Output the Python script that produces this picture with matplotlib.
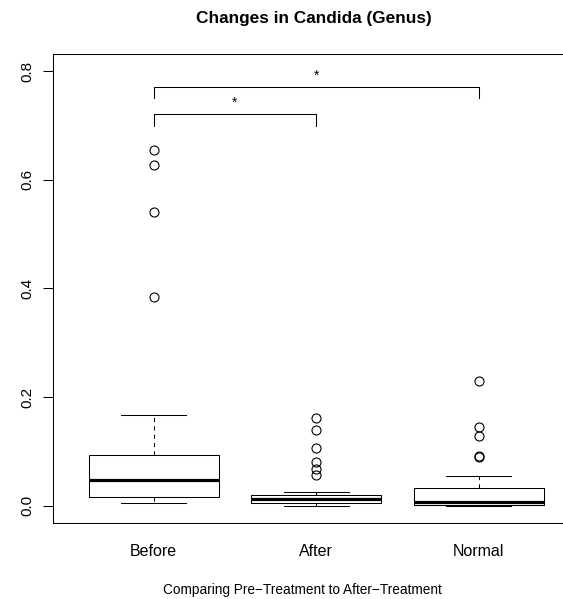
import matplotlib
matplotlib.use("Agg")
import matplotlib.pyplot as plt

plt.rcParams['font.family'] = ['Liberation Sans', 'DejaVu Sans']

groups = ["Before", "After", "Normal"]
whislo = [0.005, 0.000, 0.000]
q1 = [0.016, 0.005, 0.001]
med = [0.047, 0.012, 0.007]
q3 = [0.093, 0.0195, 0.032]
whishi = [0.167, 0.025, 0.0545]
outliers = [
    [0.656, 0.627, 0.541, 0.385],
    [0.162, 0.139, 0.106, 0.080, 0.068, 0.056],
    [0.2295, 0.145, 0.128, 0.091, 0.090],
]
yticks = [0.0, 0.2, 0.4, 0.6, 0.8]
comparisons = [(1, 2, 0.722, 0.700, "*"), (1, 3, 0.771, 0.751, "*")]

fig = plt.figure(figsize=(5.63, 5.99), dpi=100)
ax = fig.add_axes([53.3 / 563, 76 / 599, (578.8 - 53.3) / 563, 469 / 599])

stats = []
for i, g in enumerate(groups):
    stats.append(dict(label=g, whislo=whislo[i], q1=q1[i], med=med[i],
                      q3=q3[i], whishi=whishi[i], fliers=outliers[i]))

ax.bxp(stats, positions=[1, 2, 3], widths=0.8, showfliers=True,
       boxprops=dict(color='black', linewidth=0.75),
       medianprops=dict(color='black', linewidth=2.3, solid_capstyle='butt'),
       whiskerprops=dict(color='black', linewidth=0.75, linestyle=(0, (4, 4))),
       capprops=dict(color='black', linewidth=0.75),
       capwidths=0.4,
       flierprops=dict(marker='o', markerfacecolor='none', markeredgecolor='black',
                       markersize=6.5, markeredgewidth=0.8))

for (a, b, top, bot, s) in comparisons:
    ax.plot([a, a, b, b], [bot, top, top, bot], color='black', linewidth=0.75)
    ax.text((a + b) / 2, top + 0.008, s, ha='center', va='bottom', fontsize=10)

ax.set_xlim(0.383, 3.617)
ax.set_ylim(-0.032, 0.832)
ax.set_yticks(yticks)
ax.set_yticklabels([f"{v:.1f}" for v in yticks], rotation=90, va='center', fontsize=11)
ax.set_xticks([1, 2, 3])
ax.set_xticklabels(groups, fontsize=11.5)
ax.tick_params(axis='x', length=0, pad=15)
ax.tick_params(axis='y', length=7, width=0.75, pad=6.5)
for sp in ax.spines.values():
    sp.set_linewidth(0.75)

fig.text(302 / 563, 1 - 590 / 599, "Comparing Pre\u2212Treatment to After\u2212Treatment",
         ha='center', va='center', fontsize=9.8)
fig.text(314 / 563, 1 - 18 / 599, "Changes in Candida (Genus)", ha='center', va='center',
         fontsize=12.4, fontweight='bold')

fig.savefig("out.png", dpi=100)
